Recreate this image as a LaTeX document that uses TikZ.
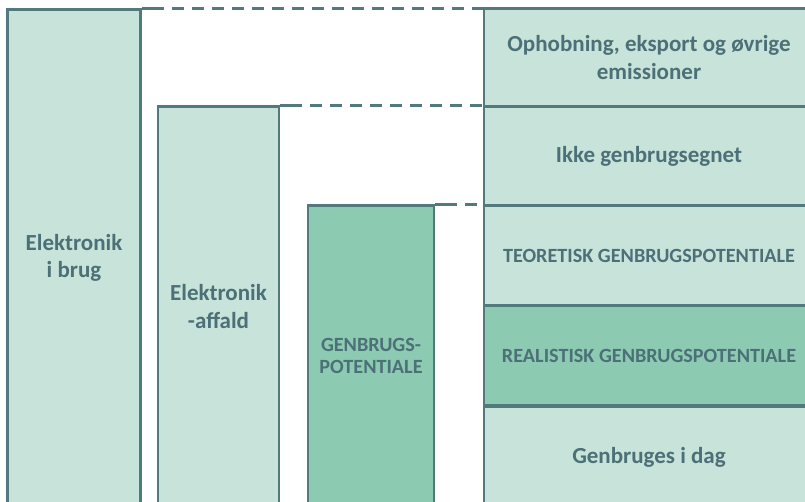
\documentclass[tikz,border=0pt]{standalone}
\usepackage{fontspec}
\setmainfont{Carlito}
\definecolor{light}{HTML}{C8E3D9}
\definecolor{darkfill}{HTML}{8CCAB2}
\definecolor{edge}{HTML}{52797C}
\definecolor{txt}{HTML}{4C7077}
\begin{document}
\begin{tikzpicture}[x=1pt,y=-1pt,
  bar/.style={draw=edge,line width=2.6pt,fill=light,inner sep=0pt,align=center,
    text=txt,font=\bfseries\fontsize{23}{27.5}\selectfont},
  dbar/.style={bar,fill=darkfill},
  small/.style={font=\bfseries\fontsize{20.2}{22.5}\selectfont},
  guide/.style={draw=edge,line width=2.6pt,dash pattern=on 12pt off 8pt}]
\useasboundingbox (0,0) rectangle (805,501);
\clip (0,0) rectangle (805,501);
\node[bar,minimum width=132.5pt,minimum height=497pt] (b1) at (74,258) {Elektronik\\i brug};
\node[bar,minimum width=121pt,minimum height=400pt] (b2) at (218.5,306.5) {Elektronik\\-affald};
\node[dbar,small,minimum width=126pt,minimum height=301pt] (b3) at (371,356) {GENBRUGS-\\POTENTIALE};
\node[bar,minimum width=330pt,minimum height=98pt] (r1) at (649,57.5) {Ophobning, eksport og øvrige\\emissioner};
\node[bar,minimum width=330pt,minimum height=99pt] (r2) at (649,156) {Ikke genbrugsegnet};
\node[bar,small,minimum width=330pt,minimum height=100pt] (r3) at (649,255.5) {TEORETISK GENBRUGSPOTENTIALE};
\node[dbar,small,minimum width=330pt,minimum height=100pt] (r4) at (649,355.5) {REALISTISK GENBRUGSPOTENTIALE};
\node[bar,minimum width=330pt,minimum height=102pt] (r5) at (649,457.5) {Genbruges i dag};
\draw[guide] ([xshift=10pt]b1.north east) -- (b1.north east -| r1.west);
\draw[edge,line width=2.6pt] (b1.north east) -- ++(10,0);
\draw[guide] ([xshift=10pt]b2.north east) -- (b2.north east -| r2.west);
\draw[edge,line width=2.6pt] (b2.north east) -- ++(10,0);
\draw[guide] ([xshift=10pt]b3.north east) -- (b3.north east -| r3.west);
\draw[edge,line width=2.6pt] (b3.north east) -- ++(10,0);
\end{tikzpicture}
\end{document}
